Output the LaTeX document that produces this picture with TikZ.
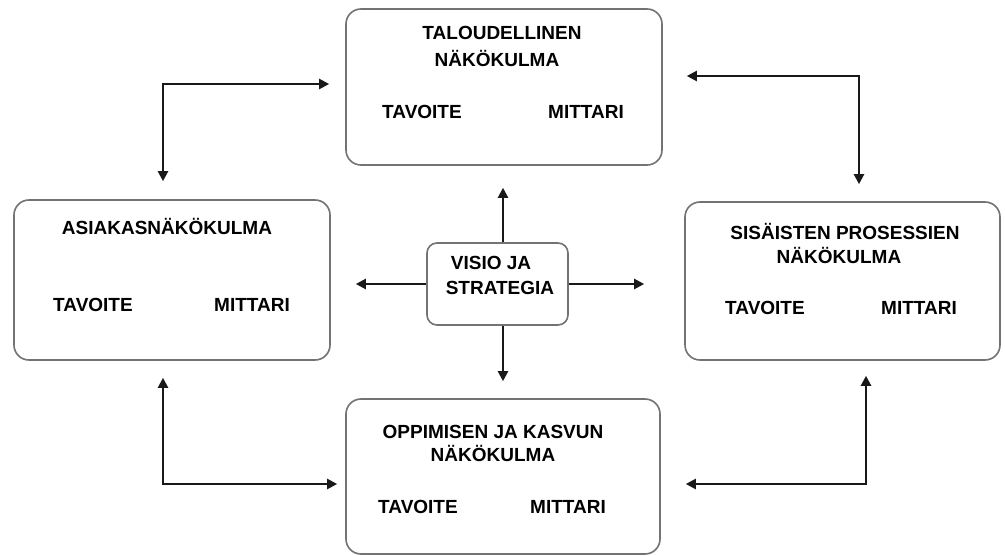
\documentclass[tikz,border=0pt]{standalone}
\usepackage{fontspec}
\setmainfont{Liberation Sans}
\usetikzlibrary{arrows.meta}
\tikzset{
  box/.style={draw=black!55, line width=1.6pt, rounded corners=15pt, fill=white, inner sep=0pt},
  cbox/.style={draw=black!55, line width=1.6pt, rounded corners=10pt, fill=white, inner sep=0pt},
  lbl/.style={font=\fontsize{19}{22}\selectfont\bfseries, text height=13.5pt, text depth=0pt, inner sep=0pt, anchor=center},
  arr/.style={line width=2.2pt, draw=black!90, -{Triangle[length=10pt,width=10pt]}},
  dbl/.style={line width=2.2pt, draw=black!90, {Triangle[length=10pt,width=10pt]}-{Triangle[length=10pt,width=10pt]}}
}
\begin{document}
\begin{tikzpicture}[x=1pt,y=-1pt]
\useasboundingbox[fill=white] (0,0) rectangle (1005,556);
% boxes
\node[box, minimum width=316pt, minimum height=156pt] (top) at (504,87) {};
\node[box, minimum width=316pt, minimum height=160pt] (left) at (172,280) {};
\node[box, minimum width=315pt, minimum height=158pt] (right) at (842.5,281) {};
\node[box, minimum width=314pt, minimum height=155pt] (bottom) at (503,476.5) {};
\node[cbox, minimum width=141pt, minimum height=82pt] (centre) at (497.5,284) {};
% texts
\node[lbl] (t1) at (502,33) {TALOUDELLINEN};
\node[lbl] (t2) at (497,60) {NÄKÖKULMA};
\node[lbl] (t3) at (422,112) {TAVOITE};
\node[lbl] (t4) at (586,112) {MITTARI};
\node[lbl] (l1) at (167,228) {ASIAKASNÄKÖKULMA};
\node[lbl] (l3) at (93,305) {TAVOITE};
\node[lbl] (l4) at (252,305) {MITTARI};
\node[lbl] (r1) at (845,233) {SISÄISTEN PROSESSIEN};
\node[lbl] (r2) at (839,257) {NÄKÖKULMA};
\node[lbl] (r3) at (765,308) {TAVOITE};
\node[lbl] (r4) at (919,308) {MITTARI};
\node[lbl] (b1) at (493,432) {OPPIMISEN JA KASVUN};
\node[lbl] (b2) at (493,455) {NÄKÖKULMA};
\node[lbl] (b3) at (418,507) {TAVOITE};
\node[lbl] (b4) at (568,507) {MITTARI};
\node[lbl] (c1) at (491,263) {VISIO JA};
\node[lbl] (c2) at (500,288) {STRATEGIA};
% elbow coordinates
\coordinate (tl) at (163,84);
\coordinate (tr) at (859,76);
\coordinate (bl) at (163,484);
\coordinate (br) at (866,484);
% corner connectors
\draw[dbl, shorten <=18pt, shorten >=16pt] (left.north -| tl) |- (top.west |- tl);
\draw[dbl, shorten <=17pt, shorten >=24pt] (right.north -| tr) |- (top.east |- tr);
\draw[dbl, shorten <=17pt, shorten >=8pt] (left.south -| bl) |- (bottom.west |- bl);
\draw[dbl, shorten <=15pt, shorten >=25pt] (right.south -| br) |- (bottom.east |- br);
% centre arrows
\draw[arr, shorten >=22pt] ([xshift=5.5pt]centre.north) -- ([xshift=5.5pt]centre.north |- top.south);
\draw[arr, shorten >=17pt] ([xshift=5.5pt]centre.south) -- ([xshift=5.5pt]centre.south |- bottom.north);
\draw[arr, shorten >=25pt] (centre.west) -- (centre.west -| left.east);
\draw[arr, shorten >=40pt] (centre.east) -- (centre.east -| right.west);
\end{tikzpicture}
\end{document}
